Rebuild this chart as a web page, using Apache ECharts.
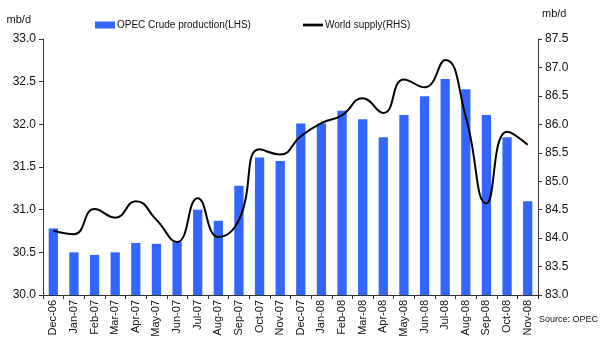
<!DOCTYPE html>
<html><head><meta charset="utf-8">
<script src="https://cdn.jsdelivr.net/npm/echarts@6/dist/echarts.min.js"></script>
<style>html,body{margin:0;padding:0;background:#fff}#c{width:600px;height:350px}</style>
</head><body><div id="c"></div>
<script>
var categories = ["Dec-06","Jan-07","Feb-07","Mar-07","Apr-07","May-07","Jun-07","Jul-07","Aug-07","Sep-07","Oct-07","Nov-07","Dec-07","Jan-08","Feb-08","Mar-08","Apr-08","May-08","Jun-08","Jul-08","Aug-08","Sep-08","Oct-08","Nov-08"];
var opecCrude = [30.78,30.50,30.47,30.50,30.61,30.60,30.62,31.00,30.87,31.28,31.61,31.57,32.01,32.01,32.16,32.06,31.85,32.11,32.33,32.53,32.41,32.11,31.85,31.10];
var worldSupply = [84.13,84.07,84.51,84.36,84.65,84.32,83.93,84.70,84.02,84.32,85.56,85.47,85.79,86.02,86.16,86.46,86.20,86.79,86.65,87.13,86.13,84.61,85.87,85.64];
var leftTicks = {min:30, max:33, interval:0.5};
var rightTicks = {min:83, max:87.5, interval:0.5};

var chart = echarts.init(document.getElementById('c'), null, {renderer:'canvas'});
var font = 'Liberation Sans, Arial, sans-serif';
var axisColor = '#333';
chart.setOption({
  animation:false,
  textStyle:{fontFamily:font},
  grid:{left:43, right:62, top:39, bottom:55, containLabel:false},
  legend:{
    left:95, top:20, padding:0, itemGap:52, itemWidth:20, itemHeight:7,
    textStyle:{fontSize:10, color:'#111', fontFamily:font, padding:[0,0,0,-3]},
    data:[{name:'OPEC Crude production(LHS)', icon:'rect'},
          {name:'World supply(RHS)', icon:'path://M0,0 L22,0 L22,3 L0,3 Z', itemStyle:{color:'#000'}}]
  },
  xAxis:{
    type:'category', data:categories, boundaryGap:true,
    axisLine:{lineStyle:{color:axisColor, width:1}},
    axisTick:{show:true, alignWithLabel:false, length:4, lineStyle:{color:axisColor}},
    axisLabel:{rotate:90, fontSize:11, color:'#111', interval:0, margin:5, fontFamily:font}
  },
  yAxis:[{
    type:'value', min:leftTicks.min, max:leftTicks.max, interval:leftTicks.interval,
    name:'mb/d', nameLocation:'end', nameGap:14, nameTextStyle:{fontSize:11, color:'#111', align:'right', padding:[0,12,0,0]},
    splitLine:{show:false},
    axisLine:{show:true, lineStyle:{color:axisColor}},
    axisTick:{show:true, length:4, lineStyle:{color:axisColor}},
    axisLabel:{fontSize:12, color:'#111', margin:7, formatter:function(v){return v.toFixed(1);}}
  },{
    type:'value', min:rightTicks.min, max:rightTicks.max, interval:rightTicks.interval,
    name:'mb/d', nameLocation:'end', nameGap:20, nameTextStyle:{fontSize:11, color:'#111', align:'left', padding:[0,0,0,4]},
    splitLine:{show:false},
    axisLine:{show:true, lineStyle:{color:axisColor}},
    axisTick:{show:true, length:4, lineStyle:{color:axisColor}},
    axisLabel:{fontSize:12, color:'#111', margin:7, formatter:function(v){return v.toFixed(1);}}
  }],
  series:[{
    name:'OPEC Crude production(LHS)', type:'bar', data:opecCrude, yAxisIndex:0,
    barWidth:'45%', itemStyle:{color:'#3366ff'}
  },{
    name:'World supply(RHS)', type:'line', data:worldSupply, yAxisIndex:1,
    smooth:0.5, symbol:'none', lineStyle:{color:'#000', width:2}, itemStyle:{color:'#000'}
  }],
  graphic:[{type:'text', left:539, top:315, style:{text:'Source: OPEC', fontSize:9, fill:'#111', fontFamily:font}}]
});
</script></body></html>
